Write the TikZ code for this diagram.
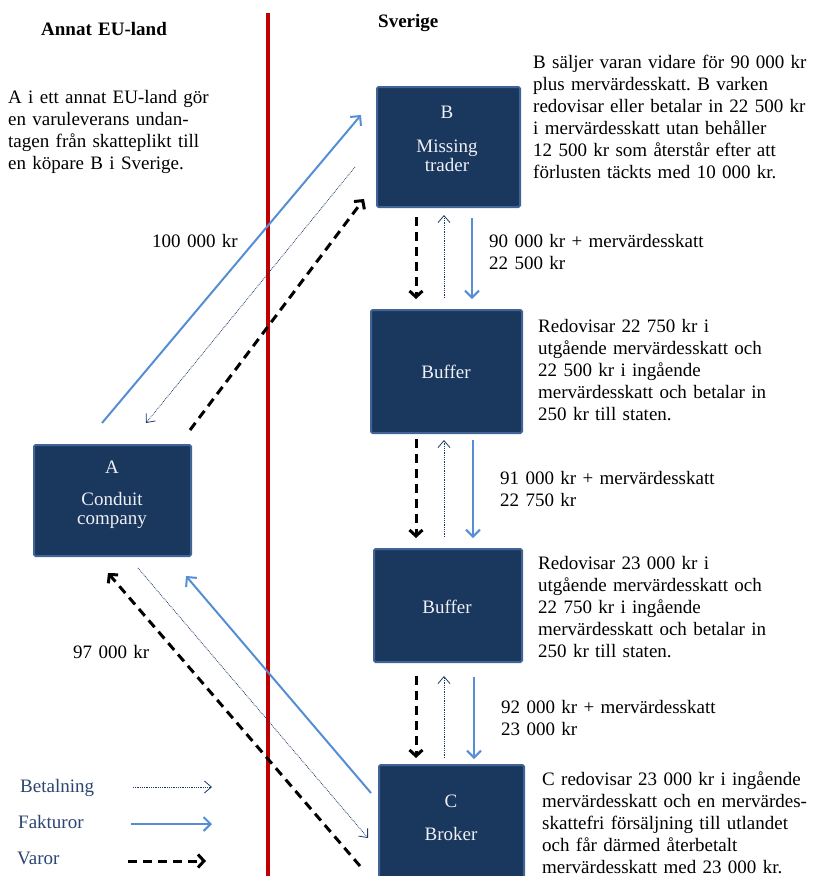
\documentclass[tikz,border=0pt]{standalone}
\usepackage{fontspec}
\setmainfont{Liberation Serif}
\frenchspacing
\usetikzlibrary{arrows.meta, calc}

\definecolor{boxfill}{HTML}{1A375E}
\definecolor{boxedge}{HTML}{416496}
\definecolor{boxtext}{HTML}{EEF0F4}
\definecolor{billblue}{HTML}{558ED5}
\definecolor{paynavy}{HTML}{1F3864}
\definecolor{legendnavy}{HTML}{2B4570}
\definecolor{borderred}{HTML}{C00000}

\tikzset{
  box/.style={draw=boxedge, fill=boxfill, line width=2pt, rounded corners=1.5pt, inner sep=0pt},
  boxname/.style={text=boxtext, align=center, text width=140pt, inner sep=0pt, anchor=base},
  note/.style={align=left, text width=300pt, inner sep=0pt, anchor=base west},
  pay/.style={draw=paynavy, line width=0.8pt, densely dotted, -{Straight Barb[length=7pt, width=12pt, line width=0.8pt]}},
  bill/.style={draw=billblue, line width=2pt, -{Straight Barb[length=7pt, width=14pt]}},
  goods/.style={draw=black, line width=3pt, dash pattern=on 9pt off 6pt, -{Straight Barb[length=6pt, width=13pt]}},
}

\begin{document}
\begin{tikzpicture}[x=1pt, y=-1pt, font=\fontsize{19}{22}\selectfont]
\useasboundingbox (0,0) rectangle (813,876);

% gränsen
\draw[borderred, line width=4pt] (268,13) -- (268,880);
\node[note, font=\fontsize{19}{22}\selectfont\bfseries] (eu) at (41,35) {Annat EU-land};
\node[note, font=\fontsize{19}{22}\selectfont\bfseries] (se) at (378,27) {Sverige};

% boxar
\node[box, minimum width=143pt, minimum height=120pt] (B) at (448.5,147) {};
\node[boxname] (Bt) at (447,118) {B\\[12pt]Missing\\[-3pt]trader};
\node[box, minimum width=151pt, minimum height=123pt] (buf1) at (446.5,371.5) {};
\node[boxname] (buf1t) at (446,378) {Buffer};
\node[box, minimum width=148pt, minimum height=113pt] (buf2) at (448,605.5) {};
\node[boxname] (buf2t) at (447,613) {Buffer};
\node[box, minimum width=145pt, minimum height=122pt] (C) at (451.5,826) {};
\node[boxname] (Ct) at (451,807) {C\\[11pt]Broker};
\node[box, minimum width=157pt, minimum height=111pt] (A) at (112.5,500.5) {};
\node[boxname] (At) at (112,473) {A\\[10pt]Conduit\\[-3pt]company};

% texter
\node[note] (intro) at (8,103) {A i ett annat EU-land gör\\en varuleverans undan-\\tagen från skatteplikt till\\en köpare B i Sverige.};
\node[note] (Bnote) at (533,68) {B säljer varan vidare för 90 000 kr\\plus mervärdesskatt. B varken\\redovisar eller betalar in 22 500 kr\\i mervärdesskatt utan behåller\\12 500 kr som återstår efter att\\förlusten täckts med 10 000 kr.};
\node[note] (buf1note) at (538,332) {Redovisar 22 750 kr i\\utgående mervärdesskatt och\\22 500 kr i ingående\\mervärdesskatt och betalar in\\250 kr till staten.};
\node[note] (buf2note) at (538,569) {Redovisar 23 000 kr i\\utgående mervärdesskatt och\\22 750 kr i ingående\\mervärdesskatt och betalar in\\250 kr till staten.};
\node[note] (Cnote) at (542,785) {C redovisar 23 000 kr i ingående\\mervärdesskatt och en mervärdes-\\skattefri försäljning till utlandet\\och får därmed återbetalt\\mervärdesskatt med 23 000 kr.};

% belopp
\node[note] (amt1) at (489,247) {90 000 kr + mervärdesskatt\\22 500 kr};
\node[note] (amt2) at (500,484) {91 000 kr + mervärdesskatt\\22 750 kr};
\node[note] (amt3) at (501,713) {92 000 kr + mervärdesskatt\\23 000 kr};
\node[note] (amtAB) at (152,247) {100 000 kr};
\node[note] (amtCA) at (73,658) {97 000 kr};

% B - buffer - buffer - C
\draw[goods, shorten <=9pt, shorten >=10pt] (416,0 |- B.south) -- (416,0 |- buf1.north);
\draw[pay, shorten <=11pt, shorten >=7pt] (444,0 |- buf1.north) -- (444,0 |- B.south);
\draw[bill, shorten <=10pt, shorten >=10pt] (472,0 |- B.south) -- (472,0 |- buf1.north);
\draw[goods, shorten <=5pt, shorten >=10pt] (416,0 |- buf1.south) -- (416,0 |- buf2.north);
\draw[pay, shorten <=11pt, shorten >=6pt] (444,0 |- buf2.north) -- (444,0 |- buf1.south);
\draw[bill, shorten <=6pt, shorten >=10pt] (473,0 |- buf1.south) -- (473,0 |- buf2.north);
\draw[goods, shorten <=13pt, shorten >=6pt] (416,0 |- buf2.south) -- (416,0 |- C.north);
\draw[pay, shorten <=6pt, shorten >=13pt] (444,0 |- C.north) -- (444,0 |- buf2.south);
\draw[bill, shorten <=14pt, shorten >=5pt] (474,0 |- buf2.south) -- (474,0 |- C.north);

% A - B
\coordinate (ab1) at (102,423);
\coordinate (ab2) at (361,115);
\coordinate (ab3) at (355,167);
\coordinate (ab4) at (146,423);
\coordinate (ab5) at (190,430);
\coordinate (ab6) at (364,199);
\draw[bill] (ab1) -- (ab2);
\draw[pay] (ab3) -- (ab4);
\draw[goods] (ab5) -- (ab6);

% C - A
\coordinate (ca1) at (371,793);
\coordinate (ca2) at (186,576);
\coordinate (ca3) at (138,568);
\coordinate (ca4) at (368,838);
\coordinate (ca5) at (360,866);
\coordinate (ca6) at (108,573);
\draw[bill] (ca1) -- (ca2);
\draw[pay] (ca3) -- (ca4);
\draw[goods] (ca5) -- (ca6);

% förklaring
\node[note, text=legendnavy] (lpay) at (20,792) {Betalning};
\node[note, text=legendnavy] (lbill) at (18,828) {Fakturor};
\node[note, text=legendnavy] (lgoods) at (17,864) {Varor};
\coordinate (lp1) at (133,787);
\coordinate (lp2) at (212,787);
\coordinate (lb1) at (131,824);
\coordinate (lb2) at (212,824);
\coordinate (lg1) at (128,861);
\coordinate (lg2) at (206,861);
\draw[pay] (lp1) -- (lp2);
\draw[bill] (lb1) -- (lb2);
\draw[goods] (lg1) -- (lg2);
\end{tikzpicture}
\end{document}
